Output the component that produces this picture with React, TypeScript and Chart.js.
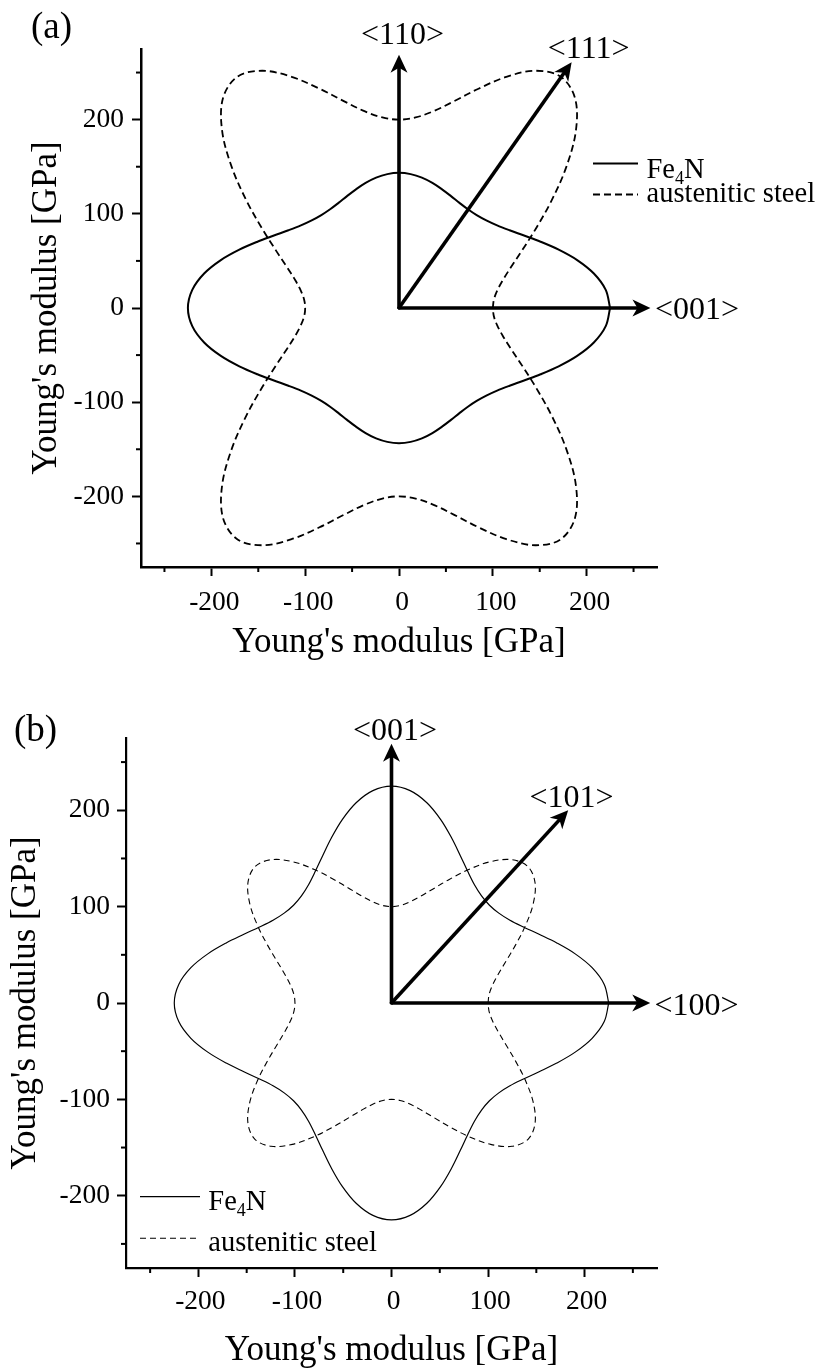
import React, { useEffect, useRef } from 'react';
import { Chart, registerables } from 'chart.js';

Chart.register(...registerables);

// ---------------- DATA ----------------
// Polar angle (deg, measured from the horizontal arrow direction) and Young's modulus (GPa)
const ANGLES_DEG = [
  0, 5, 10, 15, 20, 25, 30, 35, 40, 45, 50, 55, 60, 65, 70, 75, 80, 85, 90,
  95, 100, 105, 110, 115, 120, 125, 130, 135, 140, 145, 150, 155, 160, 165, 170, 175, 180,
  185, 190, 195, 200, 205, 210, 215, 220, 225, 230, 235, 240, 245, 250, 255, 260, 265, 270,
  275, 280, 285, 290, 295, 300, 305, 310, 315, 320, 325, 330, 335, 340, 345, 350, 355, 360,
];

// Panel (a): (1-10) plane
const A_FE4N = [
  225, 221.2, 210.9, 196.6, 181.1, 166.5, 153.9, 143.9, 136.5, 131.6, 128.8, 128.0, 128.9, 131.1, 134.1, 137.5, 140.6, 142.7, 143.5,
  142.7, 140.6, 137.5, 134.1, 131.1, 128.9, 128.0, 128.8, 131.6, 136.5, 143.9, 153.9, 166.5, 181.1, 196.6, 210.9, 221.2, 225,
  221.2, 210.9, 196.6, 181.1, 166.5, 153.9, 143.9, 136.5, 131.6, 128.8, 128.0, 128.9, 131.1, 134.1, 137.5, 140.6, 142.7, 143.5,
  142.7, 140.6, 137.5, 134.1, 131.1, 128.9, 128.0, 128.8, 131.6, 136.5, 143.9, 153.9, 166.5, 181.1, 196.6, 210.9, 221.2, 225,
];
const A_STEEL = [
  100, 101.5, 106.3, 114.6, 127.1, 144.8, 168.4, 198.3, 232.7, 266.7, 291.6, 300.0, 290.9, 270.8, 247.8, 227.4, 212.2, 203.1, 200,
  203.1, 212.2, 227.4, 247.8, 270.8, 290.9, 300.0, 291.6, 266.7, 232.7, 198.3, 168.4, 144.8, 127.1, 114.6, 106.3, 101.5, 100,
  101.5, 106.3, 114.6, 127.1, 144.8, 168.4, 198.3, 232.7, 266.7, 291.6, 300.0, 290.9, 270.8, 247.8, 227.4, 212.2, 203.1, 200,
  203.1, 212.2, 227.4, 247.8, 270.8, 290.9, 300.0, 291.6, 266.7, 232.7, 198.3, 168.4, 144.8, 127.1, 114.6, 106.3, 101.5, 100,
];

// Panel (b): (010) plane
const B_FE4N = [
  225, 221.2, 211.0, 197.0, 182.2, 168.7, 157.8, 149.8, 145.1, 143.5, 145.1, 149.8, 157.8, 168.7, 182.2, 197.0, 211.0, 221.2, 225,
  221.2, 211.0, 197.0, 182.2, 168.7, 157.8, 149.8, 145.1, 143.5, 145.1, 149.8, 157.8, 168.7, 182.2, 197.0, 211.0, 221.2, 225,
  221.2, 211.0, 197.0, 182.2, 168.7, 157.8, 149.8, 145.1, 143.5, 145.1, 149.8, 157.8, 168.7, 182.2, 197.0, 211.0, 221.2, 225,
  221.2, 211.0, 197.0, 182.2, 168.7, 157.8, 149.8, 145.1, 143.5, 145.1, 149.8, 157.8, 168.7, 182.2, 197.0, 211.0, 221.2, 225,
];
const B_STEEL = [
  100, 101.5, 106.2, 114.3, 126.0, 141.5, 160.0, 179.1, 194.1, 200, 194.1, 179.1, 160.0, 141.5, 126.0, 114.3, 106.2, 101.5, 100,
  101.5, 106.2, 114.3, 126.0, 141.5, 160.0, 179.1, 194.1, 200, 194.1, 179.1, 160.0, 141.5, 126.0, 114.3, 106.2, 101.5, 100,
  101.5, 106.2, 114.3, 126.0, 141.5, 160.0, 179.1, 194.1, 200, 194.1, 179.1, 160.0, 141.5, 126.0, 114.3, 106.2, 101.5, 100,
  101.5, 106.2, 114.3, 126.0, 141.5, 160.0, 179.1, 194.1, 200, 194.1, 179.1, 160.0, 141.5, 126.0, 114.3, 106.2, 101.5, 100,
];

const SERIES_LABELS = ['Fe_4N', 'austenitic steel'];
const AXIS_TITLE = "Young's modulus [GPa]";
const AXIS_MIN = -275;
const AXIS_MAX = 275;
const MAJOR_TICKS = [-200, -100, 0, 100, 200];
const MINOR_TICKS = [-250, -150, -50, 50, 150, 250];

// Crystal-direction arrows: tip in GPa
const ARROWS_A = [
  { label: '<110>', x: 0, y: 269 },
  { label: '<111>', x: 184, y: 261 },
  { label: '<001>', x: 268, y: 0 },
];
const ARROWS_B = [
  { label: '<001>', x: 0, y: 269 },
  { label: '<101>', x: 183, y: 200 },
  { label: '<100>', x: 268, y: 0 },
];

// ---------------- STYLE / LAYOUT ----------------
const FONT = '"Liberation Serif", "Times New Roman", Times, serif';
const W = 817;
const H = 686;

type LabelPos = { align: CanvasTextAlign; dx: number; dy: number };

const PANELS = [
  {
    key: 'a',
    letter: '(a)',
    letterX: 31,
    letterY: 38,
    top: 0,
    fe4n: A_FE4N,
    steel: A_STEEL,
    arrows: ARROWS_A,
    arrowLabelPos: [
      { align: 'center', dx: 3.5, dy: -10.5 },
      { align: 'center', dx: 17, dy: -4.5 },
      { align: 'left', dx: 4.5, dy: 11 },
    ] as LabelPos[],
    area: { left: 141, top: 49, right: 657, bottom: 567 },
    curveWidth: 2,
    dashWidth: 1.8,
    dash: [7, 4],
    axisWidth: 2.5,
    tickWidth: 2,
    yTitlePad: 25.5,
    xTitlePad: 22,
    xTickPad: 10,
    yTickPad: 8,
    xLabelOffset: 3,
    legend: {
      x0: 452,
      x1: 497,
      textX: 505.5,
      rows: [
        { lineY: 114.5, baseY: 129.3 },
        { lineY: 145.5, baseY: 152.7 },
      ],
    },
  },
  {
    key: 'b',
    letter: '(b)',
    letterX: 14,
    letterY: 55,
    top: 686,
    fe4n: B_FE4N,
    steel: B_STEEL,
    arrows: ARROWS_B,
    arrowLabelPos: [
      { align: 'center', dx: 3.5, dy: -3.5 },
      { align: 'center', dx: 3.4, dy: -2.8 },
      { align: 'left', dx: 4.3, dy: 11.5 },
    ] as LabelPos[],
    area: { left: 126, top: 52, right: 657, bottom: 582 },
    curveWidth: 1.2,
    dashWidth: 1.1,
    dash: [6, 4],
    axisWidth: 2.2,
    tickWidth: 2,
    yTitlePad: 5,
    xTitlePad: 0,
    xTickPad: 8.5,
    yTickPad: 7,
    xLabelOffset: 2,
    legend: {
      x0: 14,
      x1: 74,
      textX: 82.3,
      rows: [
        { lineY: 458.7, baseY: 472 },
        { lineY: 500.3, baseY: 512.7 },
      ],
    },
  },
];

type PanelCfg = (typeof PANELS)[number];

function toXY(angles: number[], radii: number[]) {
  return radii.map((r, i) => {
    const a = (angles[i] * Math.PI) / 180;
    return { x: r * Math.cos(a), y: r * Math.sin(a) };
  });
}

function drawRich(ctx: CanvasRenderingContext2D, text: string, x: number, y: number, size: number) {
  const parts = text.split(/_(\d)/);
  let cx = x;
  parts.forEach((p, i) => {
    if (!p) return;
    const sub = i % 2 === 1;
    const fs = sub ? Math.round(size * 0.64) : size;
    ctx.font = `${fs}px ${FONT}`;
    ctx.fillText(p, cx, sub ? y + size * 0.2 : y);
    cx += ctx.measureText(p).width;
  });
}

function drawArrow(
  ctx: CanvasRenderingContext2D,
  x0: number,
  y0: number,
  x1: number,
  y1: number,
  w: number
) {
  const headLen = 18;
  const headHalf = 8.5;
  const notch = 5;
  const ang = Math.atan2(y1 - y0, x1 - x0);
  const c = Math.cos(ang);
  const s = Math.sin(ang);
  const nx = x1 - (headLen - notch) * c;
  const ny = y1 - (headLen - notch) * s;
  ctx.lineWidth = w;
  ctx.lineCap = 'butt';
  ctx.beginPath();
  ctx.moveTo(x0 - c * 1, y0 - s * 1);
  ctx.lineTo(nx + c, ny + s);
  ctx.stroke();
  const bx = x1 - headLen * c;
  const by = y1 - headLen * s;
  ctx.beginPath();
  ctx.moveTo(x1, y1);
  ctx.lineTo(bx - headHalf * s, by + headHalf * c);
  ctx.lineTo(nx, ny);
  ctx.lineTo(bx + headHalf * s, by - headHalf * c);
  ctx.closePath();
  ctx.fill();
}

function makeOverlay(cfg: PanelCfg) {
  return {
    id: 'overlay_' + cfg.key,
    afterDatasetsDraw(chart: any) {
      const ctx: CanvasRenderingContext2D = chart.ctx;
      const a = chart.chartArea;
      const xs = chart.scales.x;
      const ys = chart.scales.y;
      ctx.save();
      ctx.strokeStyle = '#000';
      ctx.fillStyle = '#000';
      // minor ticks
      ctx.lineWidth = cfg.tickWidth;
      MINOR_TICKS.forEach((v) => {
        const px = xs.getPixelForValue(v);
        ctx.beginPath();
        ctx.moveTo(px, a.bottom);
        ctx.lineTo(px, a.bottom + 5);
        ctx.stroke();
        const py = ys.getPixelForValue(v);
        ctx.beginPath();
        ctx.moveTo(a.left, py);
        ctx.lineTo(a.left - 5, py);
        ctx.stroke();
      });
      // arrows
      const ox = xs.getPixelForValue(0);
      const oy = ys.getPixelForValue(0);
      cfg.arrows.forEach((ar, i) => {
        const tx = xs.getPixelForValue(ar.x);
        const ty = ys.getPixelForValue(ar.y);
        drawArrow(ctx, ox, oy, tx, ty, 3.6);
        const lp = cfg.arrowLabelPos[i];
        ctx.font = `32px ${FONT}`;
        ctx.textAlign = lp.align;
        ctx.textBaseline = 'alphabetic';
        ctx.fillText(ar.label, tx + lp.dx, ty + lp.dy);
      });
      // legend
      const lg = cfg.legend;
      SERIES_LABELS.forEach((lab, i) => {
        const row = lg.rows[i];
        ctx.lineWidth = i === 0 ? cfg.curveWidth : cfg.dashWidth;
        ctx.setLineDash(i === 0 ? [] : cfg.dash);
        ctx.beginPath();
        ctx.moveTo(a.left + lg.x0, a.top + row.lineY);
        ctx.lineTo(a.left + lg.x1, a.top + row.lineY);
        ctx.stroke();
        ctx.setLineDash([]);
        ctx.textAlign = 'left';
        ctx.textBaseline = 'alphabetic';
        drawRich(ctx, lab, a.left + lg.textX, a.top + row.baseY, 28.5);
      });
      // panel letter
      ctx.font = `37px ${FONT}`;
      ctx.textAlign = 'left';
      ctx.textBaseline = 'alphabetic';
      ctx.fillText(cfg.letter, cfg.letterX, cfg.letterY);
      ctx.restore();
    },
  };
}

function Panel({ cfg }: { cfg: PanelCfg }) {
  const ref = useRef<HTMLCanvasElement>(null);
  useEffect(() => {
    if (!ref.current) return;
    const area = cfg.area;
    const chart = new Chart(ref.current, {
      type: 'scatter',
      data: {
        datasets: [
          {
            label: SERIES_LABELS[0].replace('_', ''),
            data: toXY(ANGLES_DEG, cfg.fe4n),
            showLine: true,
            borderColor: '#000',
            borderWidth: cfg.curveWidth,
            pointRadius: 0,
            pointHoverRadius: 0,
            tension: 0.35,
            fill: false,
          },
          {
            label: SERIES_LABELS[1],
            data: toXY(ANGLES_DEG, cfg.steel),
            showLine: true,
            borderColor: '#000',
            borderWidth: cfg.dashWidth,
            borderDash: cfg.dash,
            pointRadius: 0,
            pointHoverRadius: 0,
            tension: 0.35,
            fill: false,
          },
        ],
      },
      options: {
        responsive: false,
        animation: false,
        events: [],
        layout: {
          padding: { left: 0, top: area.top, right: W - area.right, bottom: 0 },
        },
        plugins: {
          legend: { display: false },
          tooltip: { enabled: false },
          title: { display: false },
        },
        scales: {
          x: {
            type: 'linear',
            position: 'bottom',
            min: AXIS_MIN,
            max: AXIS_MAX,
            afterBuildTicks: (s: any) => {
              s.ticks = MAJOR_TICKS.map((v) => ({ value: v }));
            },
            afterFit: (s: any) => {
              s.height = H - area.bottom;
            },
            grid: {
              display: true,
              drawOnChartArea: false,
              drawTicks: true,
              tickLength: 9,
              tickWidth: cfg.tickWidth,
              tickColor: '#000',
            },
            border: { display: true, color: '#000', width: cfg.axisWidth },
            ticks: {
              color: '#000',
              font: { family: FONT, size: 27.5 },
              padding: cfg.xTickPad,
              labelOffset: cfg.xLabelOffset,
              autoSkip: false,
              maxRotation: 0,
              minRotation: 0,
            },
            title: {
              display: true,
              text: AXIS_TITLE,
              color: '#000',
              font: { family: FONT, size: 35 },
              padding: { top: 0, bottom: cfg.xTitlePad },
            },
          },
          y: {
            type: 'linear',
            position: 'left',
            min: AXIS_MIN,
            max: AXIS_MAX,
            afterBuildTicks: (s: any) => {
              s.ticks = MAJOR_TICKS.map((v) => ({ value: v }));
            },
            afterFit: (s: any) => {
              s.width = area.left;
            },
            grid: {
              display: true,
              drawOnChartArea: false,
              drawTicks: true,
              tickLength: 9,
              tickWidth: cfg.tickWidth,
              tickColor: '#000',
            },
            border: { display: true, color: '#000', width: cfg.axisWidth },
            ticks: {
              color: '#000',
              font: { family: FONT, size: 27.5 },
              padding: cfg.yTickPad,
              autoSkip: false,
            },
            title: {
              display: true,
              text: AXIS_TITLE,
              color: '#000',
              font: { family: FONT, size: 35 },
              padding: { top: cfg.yTitlePad, bottom: 0 },
            },
          },
        },
      } as any,
      plugins: [makeOverlay(cfg)],
    });
    return () => chart.destroy();
  }, [cfg]);
  return (
    <canvas
      ref={ref}
      width={W}
      height={H}
      style={{ position: 'absolute', left: 0, top: cfg.top, width: W, height: H }}
    />
  );
}

export default function App() {
  return (
    <div style={{ position: 'absolute', left: 0, top: 0, width: W, height: 1372, background: '#fff' }}>
      {PANELS.map((p) => (
        <Panel key={p.key} cfg={p} />
      ))}
    </div>
  );
}
